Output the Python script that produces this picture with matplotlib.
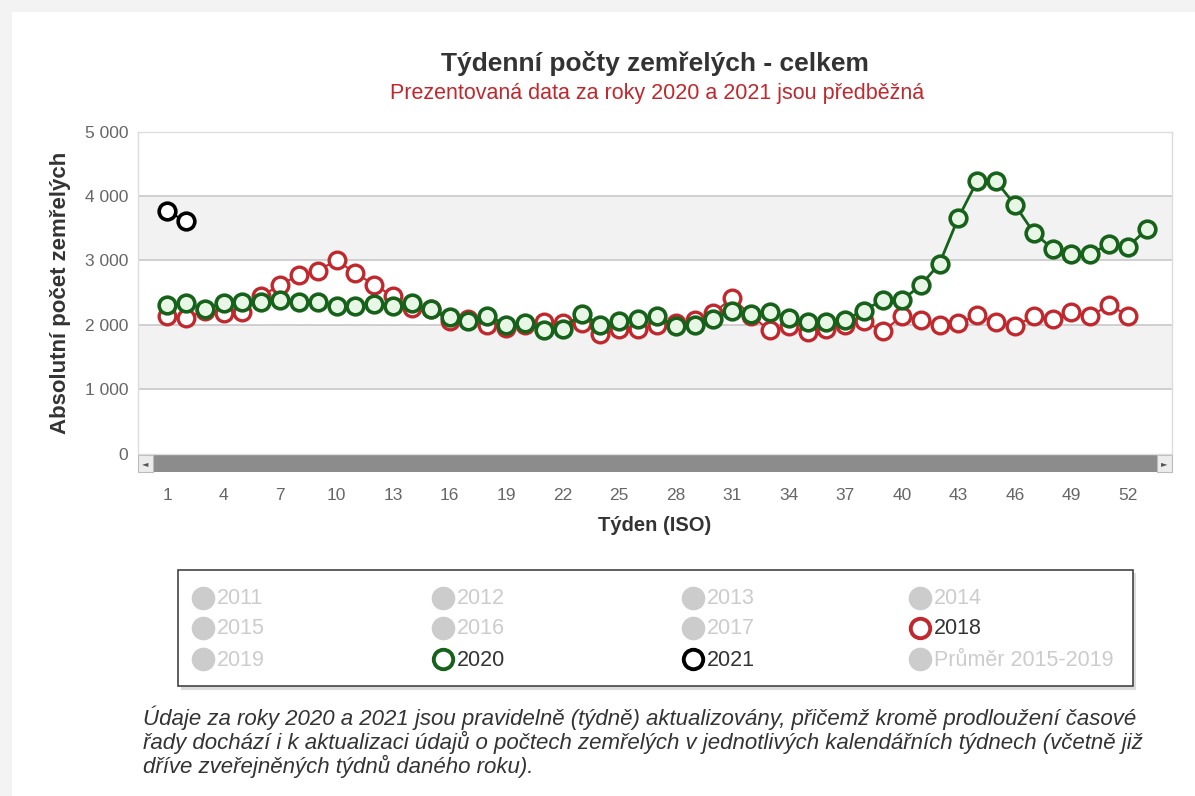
import matplotlib
matplotlib.use('Agg')
import matplotlib.pyplot as plt
from matplotlib.patches import Rectangle

plt.rcParams['font.family'] = ['Liberation Sans', 'DejaVu Sans']

# --- data ---
weeks_2018 = list(range(1, 53))
deaths_2018 = [2130, 2110, 2210, 2180, 2200, 2440, 2620, 2770, 2840, 3000,
               2800, 2620, 2440, 2260, 2250, 2060, 2090, 1990, 1950, 2000,
               2040, 2030, 2030, 1850, 1930, 1930, 1990, 2030, 2080, 2180,
               2420, 2140, 1910, 1980, 1880, 1930, 1990, 2050, 1900, 2130,
               2080, 2000, 2020, 2150, 2040, 1980, 2130, 2090, 2190, 2130,
               2310, 2140]

weeks_2020 = list(range(1, 54))
deaths_2020 = [2310, 2340, 2240, 2340, 2360, 2350, 2390, 2350, 2360, 2290,
               2290, 2320, 2290, 2330, 2240, 2120, 2060, 2140, 2000, 2030,
               1910, 1940, 2170, 2000, 2050, 2090, 2130, 1980, 1990, 2090,
               2210, 2160, 2190, 2110, 2040, 2040, 2080, 2220, 2390, 2380,
               2610, 2950, 3660, 4230, 4230, 3860, 3430, 3180, 3100, 3100,
               3250, 3210, 3480]

weeks_2021 = [1, 2]
deaths_2021 = [3760, 3610]

x_ticks = list(range(1, 53, 3))
y_ticks = [0, 1000, 2000, 3000, 4000, 5000]
y_tick_labels = ['0', '1 000', '2 000', '3 000', '4 000', '5 000']

legend_labels = ['2011', '2012', '2013', '2014',
                 '2015', '2016', '2017', '2018',
                 '2019', '2020', '2021', 'Průměr 2015-2019']
legend_active = {'2018': '#c0282d', '2020': '#17621a', '2021': '#000000'}

note_lines = ['Údaje za roky 2020 a 2021 jsou pravidelně (týdně) aktualizovány, přičemž kromě prodloužení časové',
              'řady dochází i k aktualizaci údajů o počtech zemřelých v jednotlivých kalendářních týdnech (včetně již',
              'dříve zveřejněných týdnů daného roku).']

RED = '#c0282d'
GREEN = '#17621a'

W, H = 1195, 796
fig = plt.figure(figsize=(W / 100, H / 100), dpi=100)
fig.patch.set_facecolor('#f3f3f3')

# overlay in pixel coordinates for the page furniture
bg = fig.add_axes([0, 0, 1, 1], zorder=-5)
bg.set_xlim(0, W)
bg.set_ylim(H, 0)
bg.axis('off')
bg.add_patch(Rectangle((12, 12), W - 12, H - 12, facecolor='white', edgecolor='none'))

# main plot
ax = fig.add_axes([138 / W, 1 - 453.5 / H, (1172 - 138) / W, (453.5 - 131.5) / H])
ax.set_facecolor('white')
for lo, hi in [(1000, 2000), (3000, 4000)]:
    ax.axhspan(lo, hi, color='#f2f2f2', zorder=0, lw=0)
for yv in y_ticks[1:-1]:
    ax.axhline(yv, color='#c8c8c8', lw=1.2, zorder=1)

ax.plot(weeks_2018, deaths_2018, color=RED, lw=1.5, marker='o', markersize=12,
        markerfacecolor='white', markeredgecolor=RED, markeredgewidth=2.4, zorder=3)
ax.plot(weeks_2020, deaths_2020, color=GREEN, lw=2.0, marker='o', markersize=12,
        markerfacecolor='#e8f6e6', markeredgecolor=GREEN, markeredgewidth=2.6, zorder=4)
ax.plot(weeks_2021, deaths_2021, color='black', lw=1.5, marker='o', markersize=12,
        markerfacecolor='white', markeredgecolor='black', markeredgewidth=2.6, zorder=5)

ax.set_xlim(-0.54, 54.34)
ax.set_ylim(0, 5000)
ax.set_xticks(x_ticks)
ax.set_yticks(y_ticks)
ax.set_yticklabels(y_tick_labels)
ax.tick_params(axis='both', length=0, labelsize=12.5, labelcolor='#666666')
ax.tick_params(axis='x', pad=25)
ax.tick_params(axis='y', pad=7)
for s in ax.spines.values():
    s.set_color('#dddddd')
    s.set_linewidth(1)

ax.set_xlabel('Týden (ISO)', fontsize=14.5, fontweight='bold', color='#333333', labelpad=9)
ax.set_ylabel('Absolutní počet zemřelých', fontsize=16, fontweight='bold', color='#333333', labelpad=10)

# scrollbar under the plot
bg.add_patch(Rectangle((138, 455), 1172 - 138, 17, facecolor='#8c8c8c', edgecolor='none'))
for bx in (138, 1157):
    bg.add_patch(Rectangle((bx, 455), 15, 17, facecolor='#ececec', edgecolor='#bbbbbb', lw=0.8))
bg.text(145.5, 464, '◄', fontsize=6, color='#555555', ha='center', va='center', family='DejaVu Sans')
bg.text(1164.5, 464, '►', fontsize=6, color='#555555', ha='center', va='center', family='DejaVu Sans')

# titles
bg.text(655, 63, 'Týdenní počty zemřelých - celkem', fontsize=19, fontweight='bold',
        color='#333333', ha='center', va='center')
bg.text(657, 93, 'Prezentovaná data za roky 2020 a 2021 jsou předběžná', fontsize=15.5,
        color=RED, ha='center', va='center')

# legend box
bg.add_patch(Rectangle((181, 573), 955, 117, facecolor='#bbbbbb', edgecolor='none', alpha=0.5))
bg.add_patch(Rectangle((178, 570), 955, 116, facecolor='white', edgecolor='#444444', lw=1.2))
col_x = [203, 443, 693, 920]
row_y = [598, 628, 659]
for i, lab in enumerate(legend_labels):
    cx = col_x[i % 4]
    cy = row_y[i // 4]
    if lab in legend_active:
        c = legend_active[lab]
        bg.plot(cx, cy, marker='o', markersize=14, markerfacecolor='white',
                markeredgecolor=c, markeredgewidth=2.8)
        tc = '#333333'
    else:
        bg.plot(cx, cy, marker='o', markersize=16, markerfacecolor='#cccccc',
                markeredgecolor='#cccccc')
        tc = '#cccccc'
    bg.text(cx + 14, cy + 1, lab, fontsize=15.5, color=tc, ha='left', va='center')

# footnote
for k, line in enumerate(note_lines):
    bg.text(143, 718 + 24 * k, line, fontsize=16, style='italic', color='#333333',
            ha='left', va='center')

fig.savefig('out.png', dpi=100, facecolor=fig.get_facecolor())
